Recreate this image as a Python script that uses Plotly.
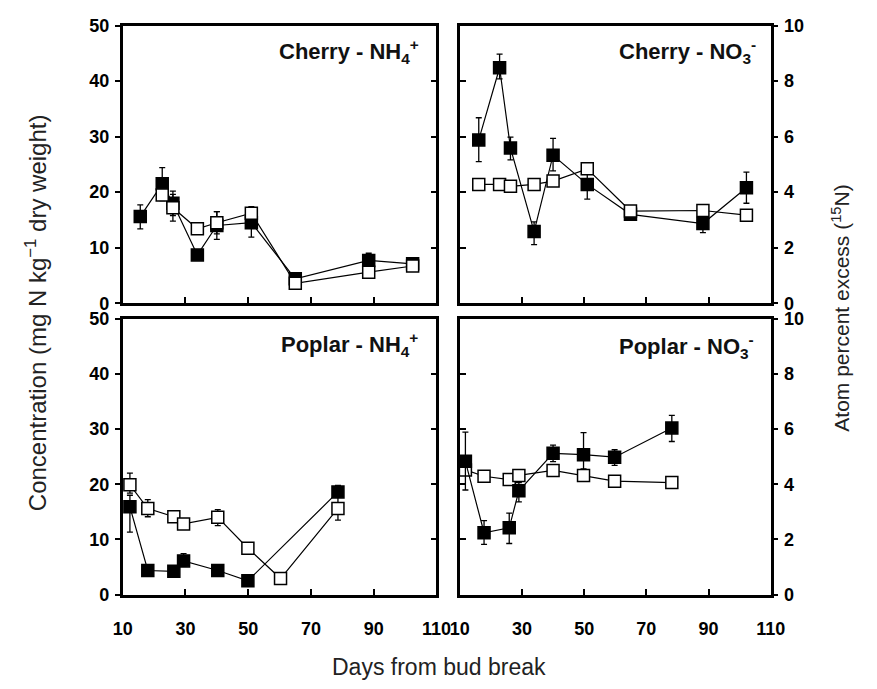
import plotly.graph_objects as go

W, H = 877, 689

# ---------------- data ----------------
# Cherry - NH4+ (concentration scale 0-50)
ch_nh4_f_days = [15.6, 22.6, 26.0, 33.8, 40.0, 51.0, 65.0, 88.4, 102.4]
ch_nh4_f_vals = [15.6, 21.5, 18.0, 8.7, 14.0, 14.5, 4.4, 7.7, 7.1]
ch_nh4_f_errp = [2.1, 2.9, 2.2, 0, 2.5, 0.8, 0, 1.3, 0.9]
ch_nh4_f_errm = [2.2, 2.9, 2.2, 0, 2.5, 2.6, 0, 0, 0]
ch_nh4_o_days = [22.6, 26.0, 33.8, 40.0, 51.0, 65.0, 88.4, 102.4]
ch_nh4_o_vals = [19.5, 17.2, 13.4, 14.5, 16.2, 3.6, 5.6, 6.7]
ch_nh4_o_errp = [1.0, 2.4, 0, 2.0, 1.2, 0, 0, 0]
ch_nh4_o_errm = [1.0, 2.4, 0, 2.0, 1.2, 0, 0, 0]

# Cherry - NO3- (atom percent excess scale 0-10)
ch_no3_days = [16.1, 22.8, 26.3, 33.9, 40.0, 51.0, 64.9, 88.2, 102.2]
ch_no3_f_vals = [5.88, 8.48, 5.59, 2.58, 5.33, 4.28, 3.20, 2.87, 4.16]
ch_no3_f_errp = [0.80, 0.49, 0.39, 0.35, 0.61, 0.47, 0, 0.25, 0.56]
ch_no3_f_errm = [0.78, 0.40, 0.43, 0.47, 0.56, 0.53, 0, 0.33, 0.56]
ch_no3_o_vals = [4.28, 4.28, 4.21, 4.28, 4.40, 4.84, 3.32, 3.34, 3.17]

# Poplar - NH4+
po_nh4_f_days = [12.3, 18.0, 26.3, 29.4, 40.3, 49.9, 78.6]
po_nh4_f_vals = [15.9, 4.36, 4.2, 6.1, 4.36, 2.5, 18.6]
po_nh4_f_errp = [2.1, 0, 0, 1.3, 0, 0, 1.2]
po_nh4_f_errm = [4.6, 0, 0, 1.0, 0, 0, 0]
po_nh4_o_days = [12.3, 18.0, 26.3, 29.4, 40.3, 49.9, 60.3, 78.6]
po_nh4_o_vals = [19.9, 15.6, 14.1, 12.8, 14.0, 8.4, 2.9, 15.6]
po_nh4_o_errp = [2.1, 1.6, 1.0, 0, 1.4, 0, 0, 2.1]
po_nh4_o_errm = [1.5, 1.5, 1.0, 0, 1.5, 0, 0, 2.1]

# Poplar - NO3-
po_no3_days = [11.8, 17.8, 25.9, 29.0, 40.0, 49.8, 59.8, 78.2]
po_no3_f_vals = [4.83, 2.24, 2.42, 3.76, 5.12, 5.07, 4.98, 6.04]
po_no3_f_errp = [1.06, 0.44, 0.53, 0.30, 0.30, 0.80, 0.27, 0.46]
po_no3_f_errm = [1.04, 0.42, 0.57, 0.40, 0.30, 0.51, 0.30, 0.49]
po_no3_o_vals = [4.52, 4.29, 4.17, 4.32, 4.50, 4.32, 4.11, 4.06]

x_ticks = [10, 30, 50, 70, 90, 110]

# ---------------- helpers ----------------
def px_x(p):
    return p / W

def px_y(p):
    return 1 - p / H

FONT = "Liberation Sans, Arial, sans-serif"
LW = 2.5

def series(x, y, errp, errm, filled, xa, ya):
    return go.Scatter(
        x=x, y=y, xaxis=xa, yaxis=ya, mode="lines+markers",
        line=dict(color="black", width=1.2),
        marker=dict(symbol="square", size=12,
                    color="black" if filled else "white",
                    line=dict(color="black", width=1.5)),
        error_y=dict(type="data", symmetric=False, array=errp, arrayminus=errm,
                     color="black", thickness=1.3, width=3),
        showlegend=False, cliponaxis=False,
    )

fig = go.Figure()
# top-left
fig.add_trace(series(ch_nh4_f_days, ch_nh4_f_vals, ch_nh4_f_errp, ch_nh4_f_errm, True, "x", "y"))
fig.add_trace(series(ch_nh4_o_days, ch_nh4_o_vals, ch_nh4_o_errp, ch_nh4_o_errm, False, "x", "y"))
# top-right
zeros9 = [0] * len(ch_no3_days)
fig.add_trace(series(ch_no3_days, ch_no3_f_vals, ch_no3_f_errp, ch_no3_f_errm, True, "x2", "y2"))
fig.add_trace(series(ch_no3_days, ch_no3_o_vals, zeros9, zeros9, False, "x2", "y2"))
# bottom-left
fig.add_trace(series(po_nh4_f_days, po_nh4_f_vals, po_nh4_f_errp, po_nh4_f_errm, True, "x3", "y3"))
fig.add_trace(series(po_nh4_o_days, po_nh4_o_vals, po_nh4_o_errp, po_nh4_o_errm, False, "x3", "y3"))
# bottom-right
zeros8 = [0] * len(po_no3_days)
fig.add_trace(series(po_no3_days, po_no3_o_vals, zeros8, zeros8, False, "x4", "y4"))
fig.add_trace(series(po_no3_days, po_no3_f_vals, po_no3_f_errp, po_no3_f_errm, True, "x4", "y4"))

# empty traces to register the mirror (inside-tick) axes
for xa, ya in [("x", "y5"), ("x2", "y6"), ("x3", "y7"), ("x4", "y8")]:
    fig.add_trace(go.Scatter(x=[], y=[], xaxis=xa, yaxis=ya, showlegend=False))

dom_L = [px_x(116), px_x(439)]
dom_R = [px_x(463), px_x(783)]
dom_T = [px_y(302), px_y(16)]
dom_B = [px_y(602), px_y(318)]

tickfont = dict(family=FONT, size=18, color="black", weight="bold")

def xaxis(domain, anchor, labels):
    return dict(domain=domain, anchor=anchor, range=[10, 110], tickvals=x_ticks,
                ticktext=[str(v) for v in x_ticks],
                ticks="inside", ticklen=6, tickwidth=2, tickcolor="black",
                showline=True, linecolor="black", linewidth=LW, mirror=True,
                showgrid=False, zeroline=False, showticklabels=labels,
                tickfont=tickfont, ticklabelstandoff=16)

def yaxis(domain, anchor, rng, dtick, side):
    return dict(domain=domain, anchor=anchor, range=rng, dtick=dtick, side=side,
                ticks="outside", ticklen=5, tickwidth=2, tickcolor="black",
                showline=True, linecolor="black", linewidth=LW,
                showgrid=False, zeroline=False, tickfont=tickfont,
                ticklabelstandoff=2)

def ymirror(over, anchor, rng, dtick, side):
    return dict(overlaying=over, anchor=anchor, range=rng, dtick=dtick, side=side,
                ticks="inside", ticklen=6, tickwidth=2, tickcolor="black",
                showline=True, linecolor="black", linewidth=LW,
                showgrid=False, zeroline=False, showticklabels=False)

fig.update_layout(
    width=W, height=H, margin=dict(l=0, r=0, t=0, b=0),
    plot_bgcolor="white", paper_bgcolor="white",
    xaxis=xaxis(dom_L, "y", False),
    xaxis2=xaxis(dom_R, "y2", False),
    xaxis3=xaxis(dom_L, "y3", True),
    xaxis4=xaxis(dom_R, "y4", True),
    yaxis=yaxis(dom_T, "x", [0, 50], 10, "left"),
    yaxis2=yaxis(dom_T, "x2", [0, 10], 2, "right"),
    yaxis3=yaxis(dom_B, "x3", [0, 50], 10, "left"),
    yaxis4=yaxis(dom_B, "x4", [0, 10], 2, "right"),
    yaxis5=ymirror("y", "x", [0, 50], 10, "right"),
    yaxis6=ymirror("y2", "x2", [0, 10], 2, "left"),
    yaxis7=ymirror("y3", "x3", [0, 50], 10, "right"),
    yaxis8=ymirror("y4", "x4", [0, 10], 2, "left"),
)

title_font = dict(family=FONT, size=22, color="#111111")
panel_titles = [
    ("<b>Cherry - NH<sub>4</sub><sup>+</sup></b>", 423, 43),
    ("<b>Cherry - NO<sub>3</sub><sup>-</sup></b>", 770, 43),
    ("<b>Poplar - NH<sub>4</sub><sup>+</sup></b>", 422, 344),
    ("<b>Poplar - NO<sub>3</sub><sup>-</sup></b>", 768, 347),
]
for txt, xr, yc in panel_titles:
    fig.add_annotation(text=txt, x=px_x(xr), y=px_y(yc), xref="paper", yref="paper",
                       xanchor="right", yanchor="middle", showarrow=False, font=title_font)

fig.add_annotation(text="Concentration (mg N kg<sup>\u22121</sup> dry weight)",
                   x=px_x(27), y=px_y(312), xref="paper", yref="paper",
                   textangle=-90, showarrow=False,
                   font=dict(family=FONT, size=24, color="#222222"),
                   xanchor="center", yanchor="middle")
fig.add_annotation(text="Atom percent excess (<sup>15</sup>N)",
                   x=px_x(855), y=px_y(307), xref="paper", yref="paper",
                   textangle=-90, showarrow=False,
                   font=dict(family=FONT, size=21, color="#222222"),
                   xanchor="center", yanchor="middle")
fig.add_annotation(text="Days from bud break",
                   x=px_x(442), y=px_y(677), xref="paper", yref="paper",
                   showarrow=False, font=dict(family=FONT, size=23, color="#222222"),
                   xanchor="center", yanchor="middle")

fig.write_html("out.html")
